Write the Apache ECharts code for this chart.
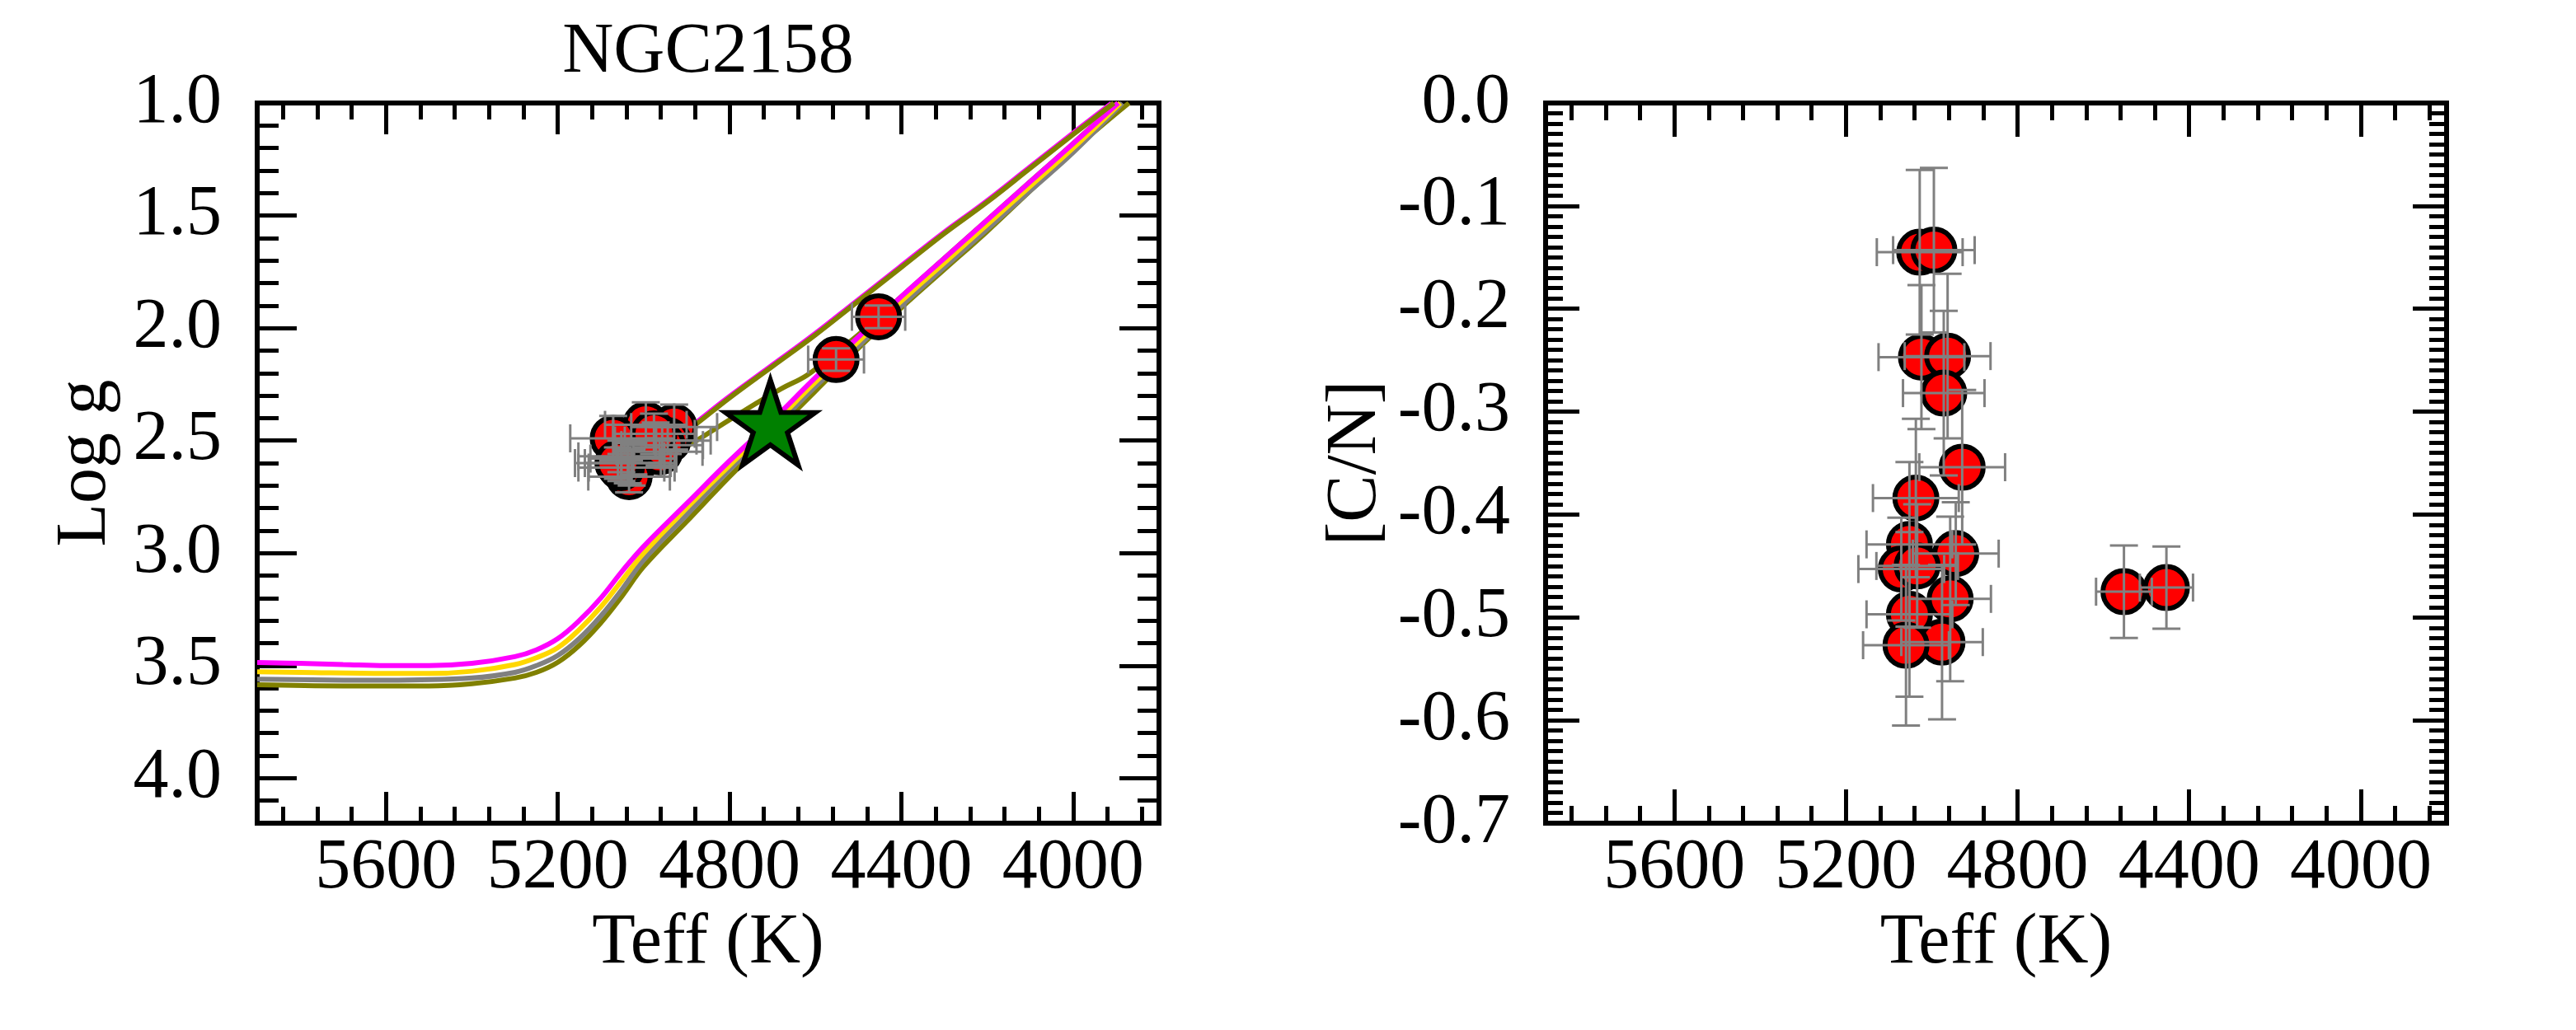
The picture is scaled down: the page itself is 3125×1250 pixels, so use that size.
<!DOCTYPE html>
<html>
<head>
<meta charset="utf-8">
<script src="https://cdn.jsdelivr.net/npm/echarts@6/dist/echarts.min.js"></script>
<style>
html, body { margin: 0; padding: 0; background: #fff; }
#chart { width: 3125px; height: 1250px; }
</style>
</head>
<body>
<div id="chart"></div>
<script>
// tick labels
var teffTicks = [5600, 5200, 4800, 4400, 4000];
var loggTicks = [1.0, 1.5, 2.0, 2.5, 3.0, 3.5, 4.0];
var cnTicks = [0.0, -0.1, -0.2, -0.3, -0.4, -0.5, -0.6, -0.7];

// stars of the cluster (Teff, log g, [C/N] and errors)
var teff  = [5028, 4995, 5024, 4963, 4972, 4929, 5037, 5052, 4944, 5071, 5034, 4957, 5052, 4976, 5060, 4552, 4453];
var eTeff = [100, 95, 100, 100, 95, 100, 100, 100, 100, 100, 95, 95, 100, 95, 100, 65, 62];
var logg  = [2.62, 2.43, 2.58, 2.55, 2.50, 2.44, 2.60, 2.57, 2.50, 2.49, 2.66, 2.52, 2.62, 2.47, 2.60, 2.14, 1.95];
var eLogg = [0.08, 0.10, 0.07, 0.06, 0.08, 0.10, 0.09, 0.07, 0.06, 0.10, 0.07, 0.08, 0.06, 0.09, 0.07, 0.05, 0.05];
var cn    = [-0.145, -0.143, -0.247, -0.246, -0.282, -0.354, -0.384, -0.429, -0.438, -0.453, -0.450, -0.482, -0.497, -0.524, -0.527, -0.475, -0.471];
var eCn   = [0.08, 0.08, 0.07, 0.08, 0.08, 0.075, 0.077, 0.08, 0.05, 0.05, 0.06, 0.08, 0.08, 0.075, 0.078, 0.045, 0.04];

// reference star
var refStar = [[4705, 2.42]];

// isochrones (Teff, log g)
var isoMagenta = [[5900, 3.486], [5800, 3.49], [5700, 3.495], [5600, 3.50], [5500, 3.50], [5400, 3.49], [5300, 3.46], [5250, 3.43],
  [5200, 3.38], [5150, 3.30], [5100, 3.20], [5050, 3.08], [5000, 2.97], [4900, 2.78], [4800, 2.59], [4700, 2.41], [4600, 2.22],
  [4500, 2.04], [4400, 1.86], [4300, 1.69], [4200, 1.52], [4100, 1.35], [4000, 1.18], [3895, 1.0]];
var isoGold = [[5900, 3.527], [5800, 3.53], [5600, 3.535], [5500, 3.535], [5400, 3.525], [5300, 3.495], [5250, 3.465], [5200, 3.42],
  [5150, 3.34], [5100, 3.24], [5050, 3.12], [5000, 3.00], [4900, 2.80], [4800, 2.61], [4700, 2.43], [4600, 2.24], [4500, 2.06],
  [4400, 1.88], [4300, 1.71], [4200, 1.54], [4100, 1.37], [4000, 1.20], [3890, 1.0]];
var isoGray = [[5900, 3.56], [5600, 3.565], [5400, 3.555], [5300, 3.53], [5250, 3.50], [5200, 3.455], [5150, 3.38], [5100, 3.28],
  [5050, 3.16], [5000, 3.03], [4900, 2.83], [4800, 2.63], [4700, 2.45], [4600, 2.26], [4500, 2.08], [4400, 1.90], [4300, 1.73],
  [4200, 1.56], [4100, 1.39], [4000, 1.22], [3885, 1.0]];
var isoOlive = [[5900, 3.585], [5700, 3.59], [5500, 3.59], [5400, 3.58], [5300, 3.555], [5250, 3.53], [5200, 3.485], [5150, 3.41],
  [5100, 3.31], [5050, 3.19], [5000, 3.06], [4900, 2.86], [4800, 2.66], [4700, 2.47], [4600, 2.28], [4500, 2.09], [4400, 1.91],
  [4300, 1.74], [4200, 1.57], [4100, 1.39], [4000, 1.21], [3870, 1.0]];
var agbMagenta = [[4956, 2.53], [4886, 2.43], [4806, 2.31], [4706, 2.17], [4606, 2.03], [4506, 1.88], [4406, 1.73], [4306, 1.58],
  [4206, 1.44], [4106, 1.29], [4006, 1.14], [3911, 1.0]];
var agbOlive1 = [[4950, 2.53], [4880, 2.43], [4800, 2.31], [4700, 2.17], [4600, 2.03], [4500, 1.88], [4400, 1.73], [4300, 1.58],
  [4200, 1.44], [4100, 1.29], [4000, 1.14], [3905, 1.0]];
var agbOlive2 = [[4930, 2.56], [4860, 2.48], [4760, 2.36], [4680, 2.27], [4620, 2.21], [4560, 2.12], [4500, 2.03], [4400, 1.86],
  [4300, 1.69], [4200, 1.52], [4100, 1.35], [4000, 1.18], [3897, 1.0]];

var FONT = 'Liberation Serif';
var FS = 86;

// positions of the short ticks
function minorValues(from, to, step, majors) {
  var out = [];
  var n = Math.round((to - from) / step);
  for (var i = 0; i <= n; i++) {
    var v = +(from + i * step).toFixed(4);
    var isMajor = majors.some(function (m) { return Math.abs(m - v) < step / 10; });
    if (!isMajor) out.push(v);
  }
  return out;
}
var teffMinor = minorValues(3840, 5840, 80, teffTicks);
var loggMinor = minorValues(1.0, 4.2, 0.1, loggTicks);
var cnMinor = minorValues(-0.7, 0.0, 0.01, cnTicks);

function tickStyle(len, values) {
  return { show: true, inside: true, length: len, customValues: values, lineStyle: { color: '#000', width: 5 } };
}
function fmt1(v) { return (+v).toFixed(1); }

// 4 axes per side: labelled major, minor, mirrored major, mirrored minor
function axisSet(dim, grid, range, majors, minors, majLen, minLen, name, nameGap, labelMargin) {
  var posA = dim === 'x' ? 'bottom' : 'left';
  var posB = dim === 'x' ? 'top' : 'right';
  function base(pos) {
    return {
      type: 'value', gridIndex: grid, position: pos,
      min: range.min, max: range.max, inverse: range.inverse,
      axisLine: { show: false, onZero: false }, splitLine: { show: false },
      axisLabel: { show: false }
    };
  }
  var main = base(posA);
  main.axisTick = tickStyle(majLen, majors);
  main.axisLabel = {
    show: true, customValues: majors, margin: labelMargin,
    fontFamily: FONT, fontSize: FS, color: '#000',
    formatter: dim === 'x' ? function (v) { return String(Math.round(v)); } : fmt1
  };
  main.name = name;
  main.nameLocation = 'middle';
  main.nameGap = nameGap;
  main.nameTextStyle = { fontFamily: FONT, fontSize: FS, color: '#000' };
  var minor = base(posA); minor.axisTick = tickStyle(minLen, minors);
  var top = base(posB); top.axisTick = tickStyle(majLen, majors);
  var topMinor = base(posB); topMinor.axisTick = tickStyle(minLen, minors);
  return [main, minor, top, topMinor];
}

var teffRange = { min: 3800, max: 5900, inverse: true };
var xAxes = axisSet('x', 0, teffRange, teffTicks, teffMinor, 38, 20, 'Teff (K)', 103, 12)
  .concat(axisSet('x', 1, teffRange, teffTicks, teffMinor, 41, 21, 'Teff (K)', 103, 12));
var yAxes = axisSet('y', 0, { min: 1.0, max: 4.2, inverse: true }, loggTicks, loggMinor, 48, 26, 'Log g', 165, 43)
  .concat(axisSet('y', 1, { min: -0.7, max: 0.0, inverse: false }, cnTicks, cnMinor, 41, 21, '[C/N]', 187, 43));

function errorBars(xs, ys, exs, eys) {
  var out = [];
  for (var i = 0; i < xs.length; i++) out.push([xs[i], ys[i], exs[i], eys[i]]);
  return out;
}

function renderErr(params, api) {
  var x = api.value(0), y = api.value(1), ex = api.value(2), ey = api.value(3);
  var l = api.coord([x + ex, y]), r = api.coord([x - ex, y]);
  var t = api.coord([x, y + ey]), b = api.coord([x, y - ey]);
  var cap = 17;
  var st = { stroke: '#808080', lineWidth: 3 };
  function seg(x1, y1, x2, y2) {
    return { type: 'line', shape: { x1: x1, y1: y1, x2: x2, y2: y2 }, style: st };
  }
  return {
    type: 'group',
    children: [
      seg(l[0], l[1], r[0], r[1]),
      seg(l[0], l[1] - cap, l[0], l[1] + cap),
      seg(r[0], r[1] - cap, r[0], r[1] + cap),
      seg(t[0], t[1], b[0], b[1]),
      seg(t[0] - cap, t[1], t[0] + cap, t[1]),
      seg(b[0] - cap, b[1], b[0] + cap, b[1])
    ]
  };
}

function isoLine(data, color, width, z) {
  return {
    type: 'line', xAxisIndex: 0, yAxisIndex: 0, data: data, showSymbol: false, smooth: 0.4,
    lineStyle: { color: color, width: width }, z: z, silent: true
  };
}

var starPath = 'path://M0,-100L22.45,-30.9L95.1,-30.9L36.3,11.8L58.8,80.9L0,38.2L-58.8,80.9L-36.3,11.8L-95.1,-30.9L-22.45,-30.9Z';

var pointsLeft = teff.map(function (t, i) { return [t, logg[i]]; });
var pointsRight = teff.map(function (t, i) { return [t, cn[i]]; });

var option = {
  animation: false,
  backgroundColor: '#fff',
  title: {
    text: 'NGC2158', left: 859, top: 21, textAlign: 'center', padding: 0,
    textStyle: { fontFamily: FONT, fontSize: FS, fontWeight: 'normal', color: '#000' }
  },
  grid: [
    { left: 312, top: 125, width: 1094, height: 874, show: true, borderColor: '#000', borderWidth: 6, backgroundColor: 'transparent', outerBoundsMode: 'none' },
    { left: 1875, top: 125, width: 1093, height: 874, show: true, borderColor: '#000', borderWidth: 6, backgroundColor: 'transparent', outerBoundsMode: 'none' }
  ],
  xAxis: xAxes,
  yAxis: yAxes,
  series: [
    isoLine(agbOlive2, '#808000', 6, 1),
    isoLine(isoOlive, '#808000', 6, 1),
    isoLine(isoGray, '#808080', 6, 2),
    isoLine(isoGold, '#ffd700', 6, 2),
    isoLine(isoMagenta, '#ff00ff', 6, 2),
    isoLine(agbMagenta, '#ff00ff', 5, 2),
    isoLine(agbOlive1, '#808000', 6, 2),
    {
      type: 'scatter', xAxisIndex: 0, yAxisIndex: 0, data: pointsLeft, symbol: 'circle', symbolSize: 51,
      itemStyle: { color: '#ff0000', borderColor: '#000', borderWidth: 6, opacity: 1 }, z: 3, silent: true
    },
    {
      type: 'custom', xAxisIndex: 0, yAxisIndex: 0, data: errorBars(teff, logg, eTeff, eLogg),
      renderItem: renderErr, z: 4, silent: true
    },
    {
      type: 'scatter', xAxisIndex: 0, yAxisIndex: 0, data: refStar, symbol: starPath, symbolSize: [109, 103],
      itemStyle: { color: '#008000', borderColor: '#000', borderWidth: 6, opacity: 1 }, z: 5, silent: true
    },
    {
      type: 'scatter', xAxisIndex: 4, yAxisIndex: 4, data: pointsRight, symbol: 'circle', symbolSize: 51,
      itemStyle: { color: '#ff0000', borderColor: '#000', borderWidth: 6, opacity: 1 }, z: 3, silent: true
    },
    {
      type: 'custom', xAxisIndex: 4, yAxisIndex: 4, data: errorBars(teff, cn, eTeff, eCn),
      renderItem: renderErr, z: 4, silent: true
    }
  ]
};

var chart = echarts.init(document.getElementById('chart'), null, { renderer: 'canvas' });
chart.setOption(option);
</script>
</body>
</html>
